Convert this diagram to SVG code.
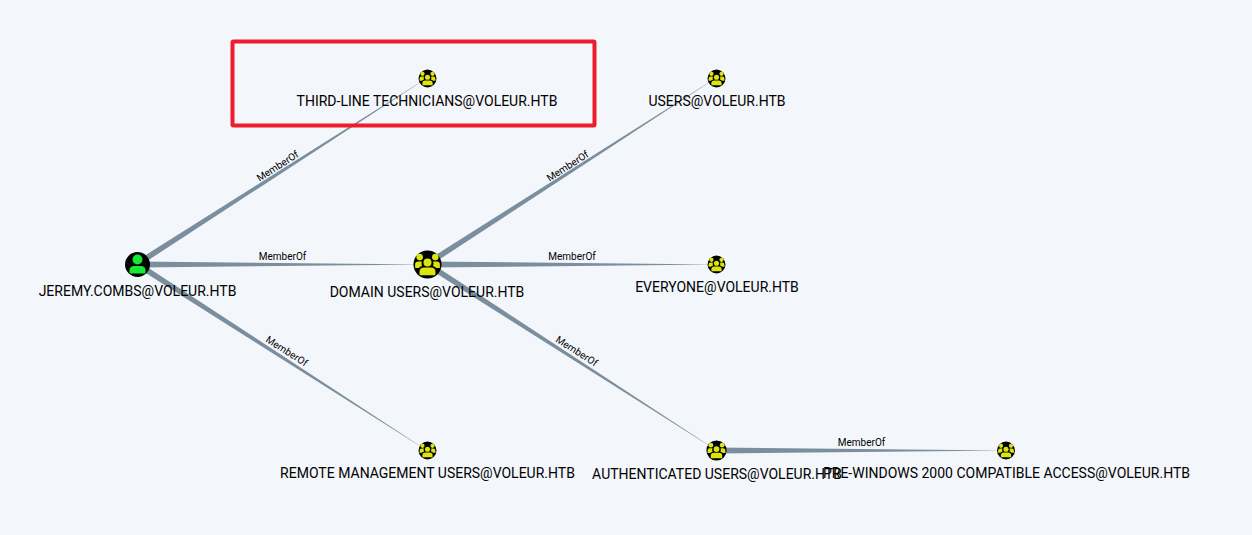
<svg xmlns="http://www.w3.org/2000/svg" width="1252" height="535" viewBox="0 0 1252 535">
<style>
.e{fill:#7b8e9d}
.nl{font-family:Roboto,"Liberation Sans",sans-serif;font-size:14px;fill:#000;text-anchor:middle}
.el{font-family:Roboto,"Liberation Sans",sans-serif;font-size:10px;fill:#000;text-anchor:middle}
.y{fill:#dbe40f}
.g{fill:#17e832}
</style>
<defs>
<g id="grp">
<circle r="14" fill="#000"/>
<circle class="y" cx="0" cy="-2" r="4"/>
<circle class="y" cx="-7.8" cy="-7.4" r="3.3"/>
<circle class="y" cx="7.8" cy="-7.4" r="3.3"/>
<path class="y" d="M-12.4 3.4V0.2Q-12.4-3-9.2-3H-5.6Q-6.6-0.4-5.4 1.6Q-7.6 2.2-8.6 3.4Z"/>
<path class="y" d="M12.4 3.4V0.2Q12.4-3 9.2-3H5.6Q6.6-0.4 5.4 1.6Q7.6 2.2 8.6 3.4Z"/>
<path class="y" d="M-8 9.5V7.5Q-8 3-3.5 3H3.500Q8 3 8 7.500V9.500Q8 10.700 6.800 10.700H-6.800Q-8 10.700-8 9.500Z"/>
</g>
</defs>
<rect width="1252" height="535" fill="#f3f6fb"/>
<g id="connectors">
<polygon class="e" points="135.4,261.5 138.6,266.5 427.1,78.1 426.9,77.9"/>
<polygon class="e" points="137,261.5 137,267.5 427,264.6 427,264.4"/>
<polygon class="e" points="138.6,261.5 135.4,266.5 426.9,450.6 427.1,450.4"/>
<polygon class="e" points="425.4,261.5 428.6,266.500 716.1,78.1 715.9,77.9"/>
<polygon class="e" points="427,261.5 427,267.5 716,264.6 716,264.4"/>
<polygon class="e" points="428.6,261.5 425.4,266.5 715.9,450.1 716.1,449.9"/>
<polygon class="e" points="716,447.5 716,453.5 1006,450.6 1006,450.4"/>
<text class="el" transform="translate(279.500 169) rotate(-32.7)">MemberOf</text>
<text class="el" x="282.5" y="260">MemberOf</text>
<text class="el" transform="translate(285 354) rotate(32.7)">MemberOf</text>
<text class="el" transform="translate(569.500 169) rotate(-32.7)">MemberOf</text>
<text class="el" x="572" y="260">MemberOf</text>
<text class="el" transform="translate(575 354) rotate(32.7)">MemberOf</text>
<text class="el" x="861.5" y="446">MemberOf</text>
</g>
<g id="n-third-line"><use href="#grp" transform="translate(427.5 78.500) scale(.64)"/><text class="nl" x="427" y="106">THIRD-LINE TECHNICIANS@VOLEUR.HTB</text></g>
<g id="n-users"><use href="#grp" transform="translate(716.5 78.500) scale(.64)"/><text class="nl" x="717" y="106">USERS@VOLEUR.HTB</text></g>
<g id="n-jeremy"><circle cx="137.5" cy="264.500" r="12.5" fill="#000"/><circle class="g" cx="137.5" cy="259.500" r="5"/><path class="g" d="M129.500 272.500V270.500Q129.500 266 134 266H141Q145.500 266 145.500 270.500V272.500Q145.500 273.500 144.500 273.500H130.500Q129.500 273.500 129.500 272.500Z"/><text class="nl" x="137.5" y="296">JEREMY.COMBS@VOLEUR.HTB</text></g>
<g id="n-domain-users"><use href="#grp" transform="translate(427.5 264.500)"/><text class="nl" x="427" y="297">DOMAIN USERS@VOLEUR.HTB</text></g>
<g id="n-everyone"><use href="#grp" transform="translate(716.5 264.500) scale(.64)"/><text class="nl" x="717" y="292">EVERYONE@VOLEUR.HTB</text></g>
<g id="n-remote"><use href="#grp" transform="translate(427.5 450.500) scale(.64)"/><text class="nl" x="427.5" y="478">REMOTE MANAGEMENT USERS@VOLEUR.HTB</text></g>
<g id="n-authenticated"><use href="#grp" transform="translate(716.5 450.500) scale(.72)"/><text class="nl" x="717" y="479">AUTHENTICATED USERS@VOLEUR.HTB</text></g>
<g id="n-pre-windows"><use href="#grp" transform="translate(1006 450.500) scale(.64)"/><text class="nl" x="1006.5" y="478">PRE-WINDOWS 2000 COMPATIBLE ACCESS@VOLEUR.HTB</text></g>
<rect x="232.5" y="41.5" width="362" height="84" rx="1" fill="none" stroke="#ee1c2c" stroke-width="4"/>
</svg>
